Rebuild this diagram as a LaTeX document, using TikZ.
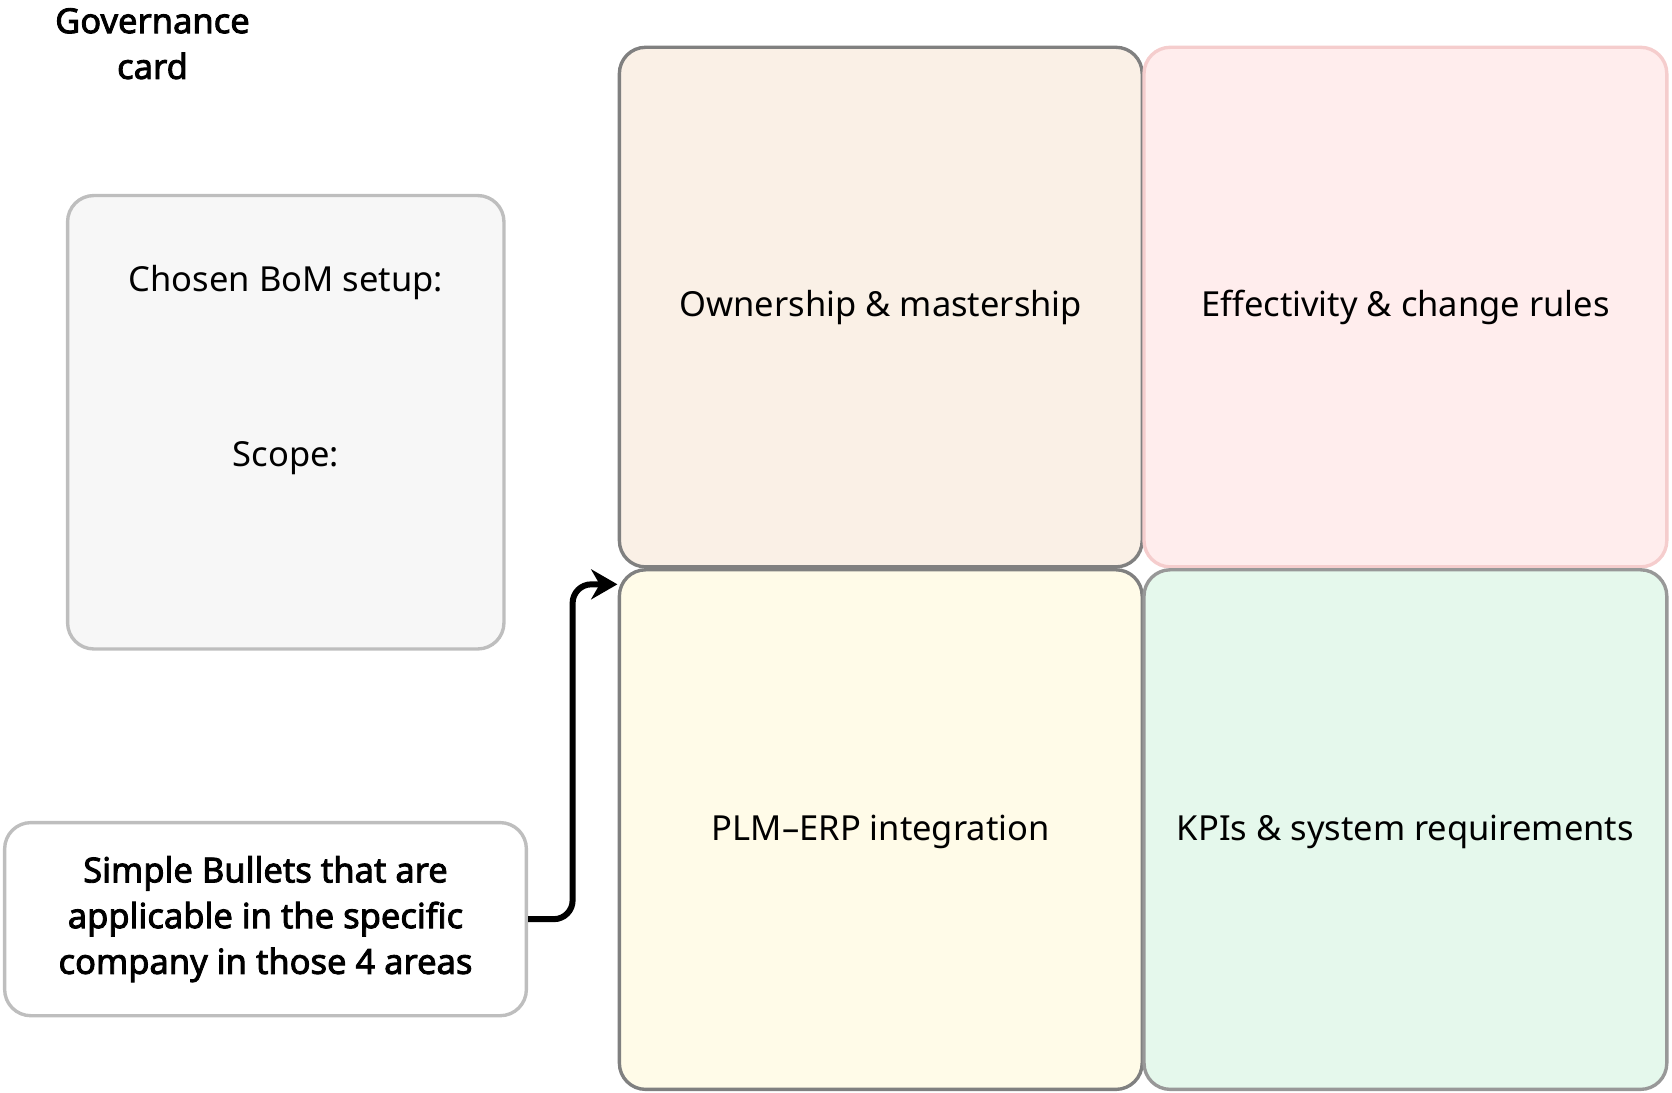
\documentclass[tikz,border=0pt]{standalone}
\usepackage{fontspec}
\setmainfont{Noto Sans}
\newfontfamily\heavyfont{Noto Sans}[FakeBold=2.5]
\usetikzlibrary{positioning,arrows.meta}
\definecolor{cardgray}{RGB}{247,247,247}
\definecolor{ownfill}{RGB}{250,240,230}
\definecolor{efffill}{RGB}{255,237,237}
\definecolor{plmfill}{RGB}{255,251,232}
\definecolor{kpifill}{RGB}{229,248,236}
\definecolor{edgegray}{RGB}{128,128,128}
\definecolor{lightedge}{RGB}{190,190,190}
\definecolor{pinkedge}{RGB}{245,205,205}
\begin{document}
\begin{tikzpicture}[x=0.01cm, y=-0.01cm, >={Stealth[length=7pt,width=8pt]},
		card/.style={draw=lightedge, line width=0.9pt, rounded corners=7pt, inner sep=0pt},
		quad/.style={draw=edgegray, line width=0.9pt, rounded corners=7pt, minimum width=4.9cm, minimum height=4.87cm, inner sep=0pt},
		label/.style={font=\fontsize{9.2}{12}\selectfont, align=center},
		boldlabel/.style={font=\heavyfont\fontsize{9.2}{12.2}\selectfont, align=center},
		link/.style={line width=1.6pt, ->, rounded corners=5pt}
		]
		\useasboundingbox (0,0) rectangle (1568,1025);
		
		\node[boldlabel](title) at (143,41) {Governance\\card};
		
		\node[card, fill=cardgray, minimum width=4.09cm, minimum height=4.25cm](setup) at (268,396) {};
		\node[label](chosen) at (268,265) {Chosen BoM setup:};
		\node[label](scope) at (268,430) {Scope:};
		
		\node[card, fill=white, minimum width=4.89cm, minimum height=1.81cm, boldlabel](bullets) at (249,862) {Simple Bullets that are\\applicable in the specific\\company in those 4 areas};
		
		\node[quad, fill=ownfill](own) at (826,288) {};
		\node[quad, fill=efffill, draw=pinkedge](eff) at (1318,288) {};
		\node[quad, fill=plmfill](plm) at (826,778) {};
		\node[quad, fill=kpifill, draw=lightedge!80!black](kpi) at (1318,778) {};
		
		\node[label] at (own) {Ownership \& mastership};
		\node[label] at (eff) {Effectivity \& change rules};
		\node[label] at (plm.center) [yshift=-0.02cm] {PLM–ERP integration};
		\node[label] at (kpi.center) [yshift=-0.02cm] {KPIs \& system requirements};
		
		\coordinate (tip) at (579,548);
		\draw[link] (bullets.east) -| (537,548) -- (tip);
\end{tikzpicture}
\end{document}
